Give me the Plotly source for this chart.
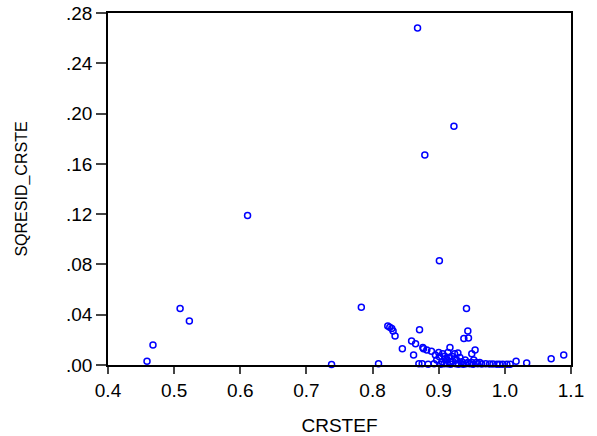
import plotly.graph_objects as go

crstef = [
    0.459, 0.468, 0.509, 0.523, 0.611, 0.738, 0.783, 0.809, 0.823, 0.826,
    0.829, 0.831, 0.834, 0.845, 0.859, 0.865, 0.862, 0.868, 0.871, 0.870,
    0.875, 0.876, 0.877, 0.879, 0.882, 0.884, 0.889, 0.897, 0.901, 0.901,
    0.903, 0.905, 0.909, 0.912, 0.914, 0.917, 0.917, 0.918, 0.920, 0.923,
    0.924, 0.927, 0.929, 0.930, 0.935, 0.937, 0.938, 0.942, 0.944, 0.944,
    0.945, 0.947, 0.950, 0.950, 0.955, 0.959, 0.965, 0.971, 0.977, 0.982,
    0.988, 0.992, 0.997, 1.003, 1.008, 1.017, 1.033, 1.070, 1.089,
    0.895, 0.900, 0.906, 0.910, 0.915, 0.921, 0.925, 0.932, 0.940, 0.953,
    0.908, 0.913, 0.926, 0.941, 0.952, 0.893, 0.957, 0.962,
]
sqresid_crste = [
    0.003, 0.016, 0.045, 0.035, 0.119, 0.0003, 0.046, 0.001, 0.031, 0.030,
    0.029, 0.027, 0.023, 0.013, 0.019, 0.017, 0.008, 0.268, 0.028, 0.001,
    0.001, 0.014, 0.013, 0.167, 0.012, 0.0005, 0.011, 0.004, 0.083, 0.0065,
    0.0005, 0.0025, 0.007, 0.004, 0.010, 0.014, 0.0025, 0.0005, 0.007, 0.190,
    0.009, 0.004, 0.0095, 0.0005, 0.0025, 0.0005, 0.021, 0.045, 0.027, 0.002,
    0.0215, 0.001, 0.009, 0.002, 0.012, 0.001, 0.0008, 0.001, 0.0008, 0.0008,
    0.0005, 0.0005, 0.0005, 0.0005, 0.0005, 0.003, 0.0015, 0.005, 0.008,
    0.008, 0.010, 0.009, 0.005, 0.006, 0.003, 0.005, 0.006, 0.004, 0.004,
    0.001, 0.001, 0.001, 0.001, 0.0005, 0.001, 0.002, 0.002,
]

y_tickvals = [0.00, 0.04, 0.08, 0.12, 0.16, 0.20, 0.24, 0.28]
y_ticktext = [".00", ".04", ".08", ".12", ".16", ".20", ".24", ".28"]
x_tickvals = [0.4, 0.5, 0.6, 0.7, 0.8, 0.9, 1.0, 1.1]
x_ticktext = ["0.4", "0.5", "0.6", "0.7", "0.8", "0.9", "1.0", "1.1"]

fig = go.Figure(go.Scatter(
    x=crstef, y=sqresid_crste, mode="markers", cliponaxis=False,
    marker=dict(symbol="circle-open", size=6, color="#0000ff",
                line=dict(width=1.5, color="#0000ff")),
))

font = "Liberation Sans, Arial, sans-serif"
fig.update_layout(
    width=597, height=436,
    margin=dict(l=108, r=26, t=13, b=71),
    paper_bgcolor="white", plot_bgcolor="white",
    showlegend=False,
    font=dict(family=font, size=18, color="black"),
    xaxis=dict(
        range=[0.4, 1.1], tickvals=x_tickvals, ticktext=x_ticktext,
        showgrid=False, zeroline=False, showline=True, linecolor="black",
        linewidth=1.5, mirror=True, ticks="outside", ticklen=7,
        tickcolor="#444", tickwidth=1.5, automargin=False,
        tickfont=dict(size=19),
        title=dict(text="CRSTEF", font=dict(size=19), standoff=20),
    ),
    yaxis=dict(
        range=[0, 0.28], tickvals=y_tickvals, ticktext=y_ticktext,
        showgrid=False, zeroline=False, showline=True, linecolor="black",
        linewidth=1.5, mirror=True, ticks="outside", ticklen=10,
        tickcolor="#444", tickwidth=1.5, automargin=False,
        tickfont=dict(size=19),
        title=dict(text="SQRESID_CRSTE", font=dict(size=16), standoff=34),
    ),
)

fig.write_html("out.html")
